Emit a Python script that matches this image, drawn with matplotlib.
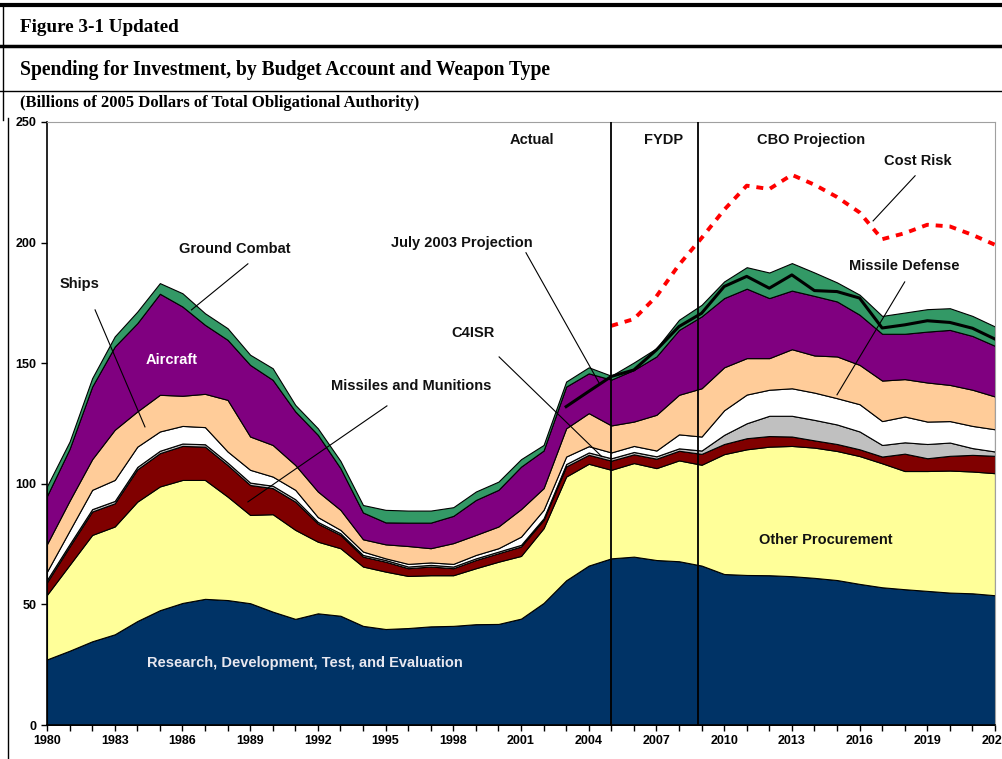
import numpy as np
import matplotlib.pyplot as plt
from matplotlib.lines import Line2D

plt.rcParams['font.family'] = ['Liberation Sans', 'DejaVu Sans']
plt.rcParams['lines.scale_dashes'] = False

years = list(range(1980, 2023))

# billions of 2005 dollars, by layer (bottom to top)
rdte = [27.2, 30.8, 34.7, 37.6, 43.1, 47.6, 50.6, 52.3, 51.8, 50.5,
        47.0, 44.0, 46.3, 45.3, 41.1, 39.8, 40.2, 40.9, 41.1, 41.8,
        41.9, 44.1, 50.6, 60.0, 66.1, 69.1, 69.8, 68.4, 67.9, 66.1,
        62.6, 62.2, 62.1, 61.7, 61.0, 60.1, 58.5, 57.1, 56.3, 55.6,
        54.9, 54.6, 53.8]
other_proc = [26.8, 35.6, 44.1, 44.7, 49.5, 51.3, 51.0, 49.3, 42.9, 36.6,
              40.4, 36.9, 29.7, 28.0, 24.6, 23.8, 21.6, 21.2, 21.0, 23.2,
              25.8, 26.0, 31.0, 43.0, 42.2, 36.7, 38.8, 38.1, 41.8, 41.8,
              49.7, 52.1, 53.3, 54.0, 54.0, 53.5, 53.0, 51.4, 49.0, 49.7,
              50.6, 50.5, 50.6]
missiles = [5.2, 7.6, 9.7, 9.6, 13.4, 13.8, 14.1, 13.8, 13.1, 12.4,
            10.8, 11.7, 7.5, 5.5, 4.1, 4.1, 3.2, 3.6, 2.9, 3.4,
            3.5, 3.9, 3.4, 4.2, 3.7, 3.8, 3.6, 3.9, 4.0, 4.5,
            4.2, 4.6, 4.4, 3.9, 3.0, 2.9, 2.8, 2.8, 7.2, 5.3,
            6.1, 6.9, 7.2]
missile_def = [1.0, 1.0, 1.0, 1.0, 1.0, 1.0, 1.0, 1.0, 1.0, 1.0,
               1.0, 1.0, 0.7, 0.7, 0.7, 0.7, 0.7, 0.7, 0.7, 0.7,
               0.7, 0.7, 0.7, 1.0, 1.0, 1.0, 1.0, 1.0, 1.0, 1.4,
               3.8, 6.2, 8.4, 8.6, 8.5, 8.1, 7.4, 4.8, 4.7, 5.9,
               5.5, 2.8, 1.8]
c4isr = [3.4, 5.6, 8.0, 8.7, 8.4, 8.0, 7.3, 7.1, 4.6, 5.3,
         3.8, 3.9, 2.0, 1.4, 1.4, 0.7, 1.1, 1.0, 1.1, 1.4,
         1.4, 3.4, 3.5, 3.1, 2.6, 2.4, 2.5, 2.4, 5.8, 5.8,
         10.2, 11.9, 10.8, 11.4, 11.3, 10.9, 11.3, 9.9, 10.7, 9.3,
         8.9, 9.2, 9.2]
ships = [11.4, 12.4, 12.7, 20.8, 14.6, 15.2, 12.5, 13.8, 21.4, 13.8,
         13.1, 10.3, 10.6, 8.3, 5.1, 5.8, 7.4, 5.9, 8.6, 8.3,
         9.0, 11.4, 9.0, 11.7, 13.7, 11.2, 10.1, 14.8, 16.4, 20.0,
         17.8, 15.1, 13.1, 16.2, 15.4, 17.3, 16.3, 16.8, 15.5, 16.2,
         15.0, 15.0, 13.6]
aircraft = [20.0, 21.5, 30.1, 34.5, 36.6, 41.9, 37.0, 28.6, 24.9, 29.7,
            27.0, 22.2, 23.5, 17.3, 11.1, 9.1, 9.7, 10.6, 11.3, 14.5,
            15.2, 17.6, 15.6, 17.3, 16.5, 19.0, 21.4, 24.2, 26.9, 29.8,
            28.7, 28.8, 24.9, 24.3, 24.7, 22.8, 20.8, 19.4, 18.8, 21.1,
            22.8, 22.3, 21.0]
ground = [4.0, 3.0, 3.5, 4.2, 4.8, 4.4, 5.5, 4.8, 4.8, 4.2,
          4.8, 2.7, 2.7, 3.0, 3.1, 5.2, 5.0, 5.0, 3.6, 3.5,
          3.4, 3.1, 2.3, 2.1, 2.5, 1.6, 3.1, 3.4, 4.2, 4.8,
          6.9, 8.9, 10.6, 11.4, 9.7, 7.9, 8.3, 7.4, 8.8, 9.3,
          9.0, 8.3, 8.0]

july03_years = list(range(2003, 2023))
july03 = [132.0, 138.3, 144.5, 147.2, 155.5, 165.2, 170.7, 181.8, 186.0, 181.1,
          186.6, 180.1, 179.7, 177.0, 164.6, 165.9, 167.6, 166.9, 164.5, 160.0]

risk_years = list(range(2005, 2023))
cost_risk = [165.5, 168.3, 177.7, 190.8, 201.9, 213.6, 223.6, 222.2, 228.1, 224.0,
             218.9, 212.5, 201.4, 203.9, 207.4, 206.7, 203.2, 199.1]

colors = ['#003366', '#FFFF99', '#800000', '#C0C0C0', '#FFFFFF',
          '#FFCC99', '#800080', '#339966']

fig = plt.figure(figsize=(10.03, 7.59), dpi=100)
ax = fig.add_axes([47 / 1003, 34 / 759, 948 / 1003, 603 / 759])

ax.stackplot(years, rdte, other_proc, missiles, missile_def, c4isr, ships,
             aircraft, ground, colors=colors, edgecolor='black', linewidth=0.8)

ax.plot(july03_years, july03, color='black', lw=2.2, zorder=5)
ax.plot(risk_years, cost_risk, color='#FF0000', lw=2.8, zorder=5,
        dashes=(5, 5))

for xv in (2005, 2008.85):
    ax.axvline(xv, color='black', lw=1.3, zorder=6)

ax.set_xlim(1980, 2022)
ax.set_ylim(0, 250)
ax.set_yticks([0, 50, 100, 150, 200, 250])
ax.set_xticks(years)
ax.set_xticklabels([str(y) if (y - 1980) % 3 == 0 else '' for y in years])
ax.tick_params(axis='both', direction='out', length=4, width=1, labelsize=9,
               colors='black')
for lab in ax.get_xticklabels() + ax.get_yticklabels():
    lab.set_fontweight('bold')
ax.spines['top'].set_color('#A0A0A0')
ax.spines['right'].set_color('#A0A0A0')
ax.spines['left'].set_linewidth(1.2)
ax.spines['bottom'].set_linewidth(1.2)

bold = dict(fontsize=10.5, fontweight='bold', color='#111111')
ax.text(2001.5, 242.6, 'Actual', ha='center', va='center', **bold)
ax.text(2007.3, 242.6, 'FYDP', ha='center', va='center', **bold)
ax.text(2013.85, 242.6, 'CBO Projection', ha='center', va='center', **bold)
ax.text(2018.6, 233.9, 'Cost Risk', ha='center', va='center', **bold)
ax.text(2018.0, 190.4, 'Missile Defense', ha='center', va='center', **bold)
ax.text(1988.3, 197.4, 'Ground Combat', ha='center', va='center', **bold)
ax.text(1981.46, 182.9, 'Ships', ha='center', va='center', **bold)
ax.text(1996.13, 140.6, 'Missiles and Munitions', ha='center', va='center', **bold)
ax.text(1998.39, 199.9, 'July 2003 Projection', ha='center', va='center', **bold)
ax.text(1998.87, 162.6, 'C4ISR', ha='center', va='center', **bold)
ax.text(2014.5, 76.7, 'Other Procurement', ha='center', va='center', **bold)
ax.text(1985.54, 151.4, 'Aircraft', ha='center', va='center', fontsize=10.5,
        fontweight='bold', color='white')
ax.text(1991.43, 25.7, 'Research, Development, Test, and Evaluation',
        ha='center', va='center', fontsize=10.5, fontweight='bold',
        color='#E8E8F0')

# leader lines
leaders = [((2018.46, 227.7), (2016.6, 209.0)),
           ((2018.0, 183.7), (2015.0, 136.9)),
           ((1988.9, 191.2), (1986.4, 172.1)),
           ((1982.13, 172.1), (1984.34, 123.6)),
           ((1995.06, 132.3), (1988.9, 92.5)),
           ((2001.22, 195.8), (2004.46, 141.8)),
           ((2000.03, 152.6), (2004.59, 111.2))]
for (x0, y0), (x1, y1) in leaders:
    ax.plot([x0, x1], [y0, y1], color='black', lw=0.8, zorder=7)

# header frame
def hline(y, lw):
    fig.add_artist(Line2D([0, 1], [1 - y / 759, 1 - y / 759], color='black',
                          lw=lw, transform=fig.transFigure))

hline(5, 3.0)
hline(46, 2.5)
hline(91, 1.0)
fig.add_artist(Line2D([3 / 1003, 3 / 1003], [1 - 4 / 759, 1 - 120 / 759],
                      color='black', lw=1.0, transform=fig.transFigure))
fig.add_artist(Line2D([8 / 1003, 8 / 1003], [1 - 118 / 759, 0],
                      color='black', lw=1.0, transform=fig.transFigure))

serif = ['Liberation Serif', 'DejaVu Serif']
fig.text(20 / 1003, 1 - 28 / 759, 'Figure 3-1 Updated', family=serif,
         fontsize=13.8, fontweight='bold', va='center')
fig.text(20 / 1003, 1 - 70 / 759,
         'Spending for Investment, by Budget Account and Weapon Type',
         family=serif, fontsize=14.1, fontweight='bold', va='center')
fig.text(20 / 1003, 1 - 103 / 759,
         '(Billions of 2005 Dollars of Total Obligational Authority)',
         family=serif, fontsize=12, fontweight='bold', va='center')

fig.savefig('out.png', dpi=100)
